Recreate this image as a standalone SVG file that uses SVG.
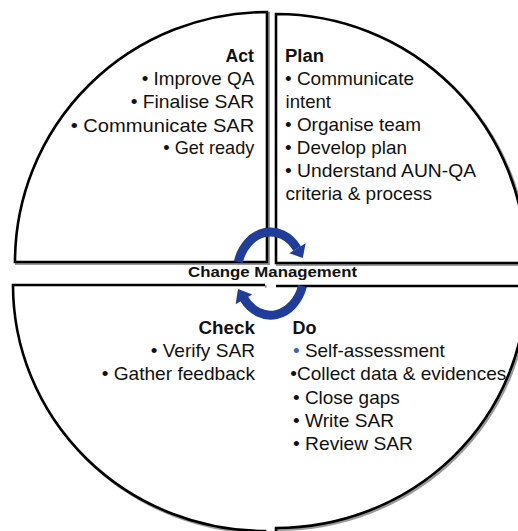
<svg xmlns="http://www.w3.org/2000/svg" width="518" height="531" viewBox="0 0 518 531">
<style>
.sh{fill:none;stroke:#9a9a9a;stroke-width:3}
.q{fill:#fff;stroke:#000;stroke-width:2.6;stroke-linejoin:miter}
.t{font-family:"Liberation Sans",Arial,sans-serif;font-size:18.5px;fill:#111}
.h{font-family:"Liberation Sans",Arial,sans-serif;font-size:18px;font-weight:bold;fill:#111}
.cm{font-family:"Liberation Sans",Arial,sans-serif;font-size:15.5px;font-weight:bold;fill:#111}
.arc{fill:none;stroke:#1f3d99;stroke-width:9}
.ah{fill:#1f3d99}
</style>
<rect width="518" height="531" fill="#fff"/>
<g id="act">
<path class="sh" transform="translate(1.5,1.5)" d="M267 262 L15 262 A252 250 0 0 1 267 12 Z"/>
<path class="q" d="M267 262 L15 262 A252 250 0 0 1 267 12 Z"/>
<text class="h" x="225.5" y="62" textLength="28.5" lengthAdjust="spacingAndGlyphs">Act</text>
<text class="t" x="141.7" y="85" textLength="112.6" lengthAdjust="spacingAndGlyphs">• Improve QA</text>
<text class="t" x="130.7" y="108" textLength="123.6" lengthAdjust="spacingAndGlyphs">• Finalise SAR</text>
<text class="t" x="70.7" y="131.5" textLength="183.6" lengthAdjust="spacingAndGlyphs">• Communicate SAR</text>
<text class="t" x="163.3" y="154.3" textLength="91" lengthAdjust="spacingAndGlyphs">• Get ready</text>
</g>
<g id="plan">
<path class="sh" transform="translate(1.5,1.5)" d="M276 263 L276 14 A250 249 0 0 1 526 263 Z"/>
<path class="q" d="M276 263 L276 14 A250 249 0 0 1 526 263 Z"/>
<text class="h" x="285" y="62" textLength="39" lengthAdjust="spacingAndGlyphs">Plan</text>
<text class="t" x="285" y="85" textLength="129" lengthAdjust="spacingAndGlyphs">• Communicate</text>
<text class="t" x="285.5" y="107.5" textLength="45.5" lengthAdjust="spacingAndGlyphs">intent</text>
<text class="t" x="285" y="131" textLength="136" lengthAdjust="spacingAndGlyphs">• Organise team</text>
<text class="t" x="285" y="154" textLength="122" lengthAdjust="spacingAndGlyphs">• Develop plan</text>
<text class="t" x="285" y="177" textLength="191" lengthAdjust="spacingAndGlyphs">• Understand AUN-QA</text>
<text class="t" x="285.5" y="200" textLength="146.5" lengthAdjust="spacingAndGlyphs">criteria &amp; process</text>
</g>
<g id="check">
<path class="sh" transform="translate(1.5,1.5)" d="M265 285 L13 285 A252 246 0 0 0 265 531 L265 540"/>
<path class="q" d="M265 285 L13 285 A252 246 0 0 0 265 531 L265 540"/>
<text class="h" x="198.5" y="333.5" textLength="56.5" lengthAdjust="spacingAndGlyphs">Check</text>
<text class="t" x="150.7" y="357" textLength="104.3" lengthAdjust="spacingAndGlyphs">• Verify SAR</text>
<text class="t" x="101.7" y="380" textLength="153.3" lengthAdjust="spacingAndGlyphs">• Gather feedback</text>
</g>
<g id="do">
<path class="sh" transform="translate(1.5,1.5)" d="M276 286 L526 286 A250 242 0 0 1 276 528 Z"/>
<path class="q" d="M276 286 L526 286 A250 242 0 0 1 276 528 L276 540"/>
<text class="h" x="292.5" y="334" textLength="24" lengthAdjust="spacingAndGlyphs">Do</text>
<text class="t" x="293" y="357.3" textLength="151.7" lengthAdjust="spacingAndGlyphs"><tspan fill="#3a62b8">•</tspan> Self-assessment</text>
<text class="t" x="290.3" y="380.3" textLength="216" lengthAdjust="spacingAndGlyphs">•Collect data &amp; evidences</text>
<text class="t" x="293" y="403.5" textLength="106.7" lengthAdjust="spacingAndGlyphs">• Close gaps</text>
<text class="t" x="293" y="426.7" textLength="101" lengthAdjust="spacingAndGlyphs">• Write SAR</text>
<text class="t" x="293" y="450" textLength="120" lengthAdjust="spacingAndGlyphs">• Review SAR</text>
</g>
<g id="connectors">
<path class="arc" d="M238.3 262 A33.5 42 0 0 1 297.1 248.5"/>
<polygon class="ah" points="305.6,243.3 289.2,253.2 302.8,258"/>
<path class="arc" d="M302.5 286 A33.5 42 0 0 1 243.9 298.5"/>
<polygon class="ah" points="252.3,294.5 235.6,304.3 238,289"/>
</g>
<g id="change-management">
<text class="cm" x="188" y="277" textLength="169" lengthAdjust="spacingAndGlyphs">Change Management</text>
</g>
</svg>
